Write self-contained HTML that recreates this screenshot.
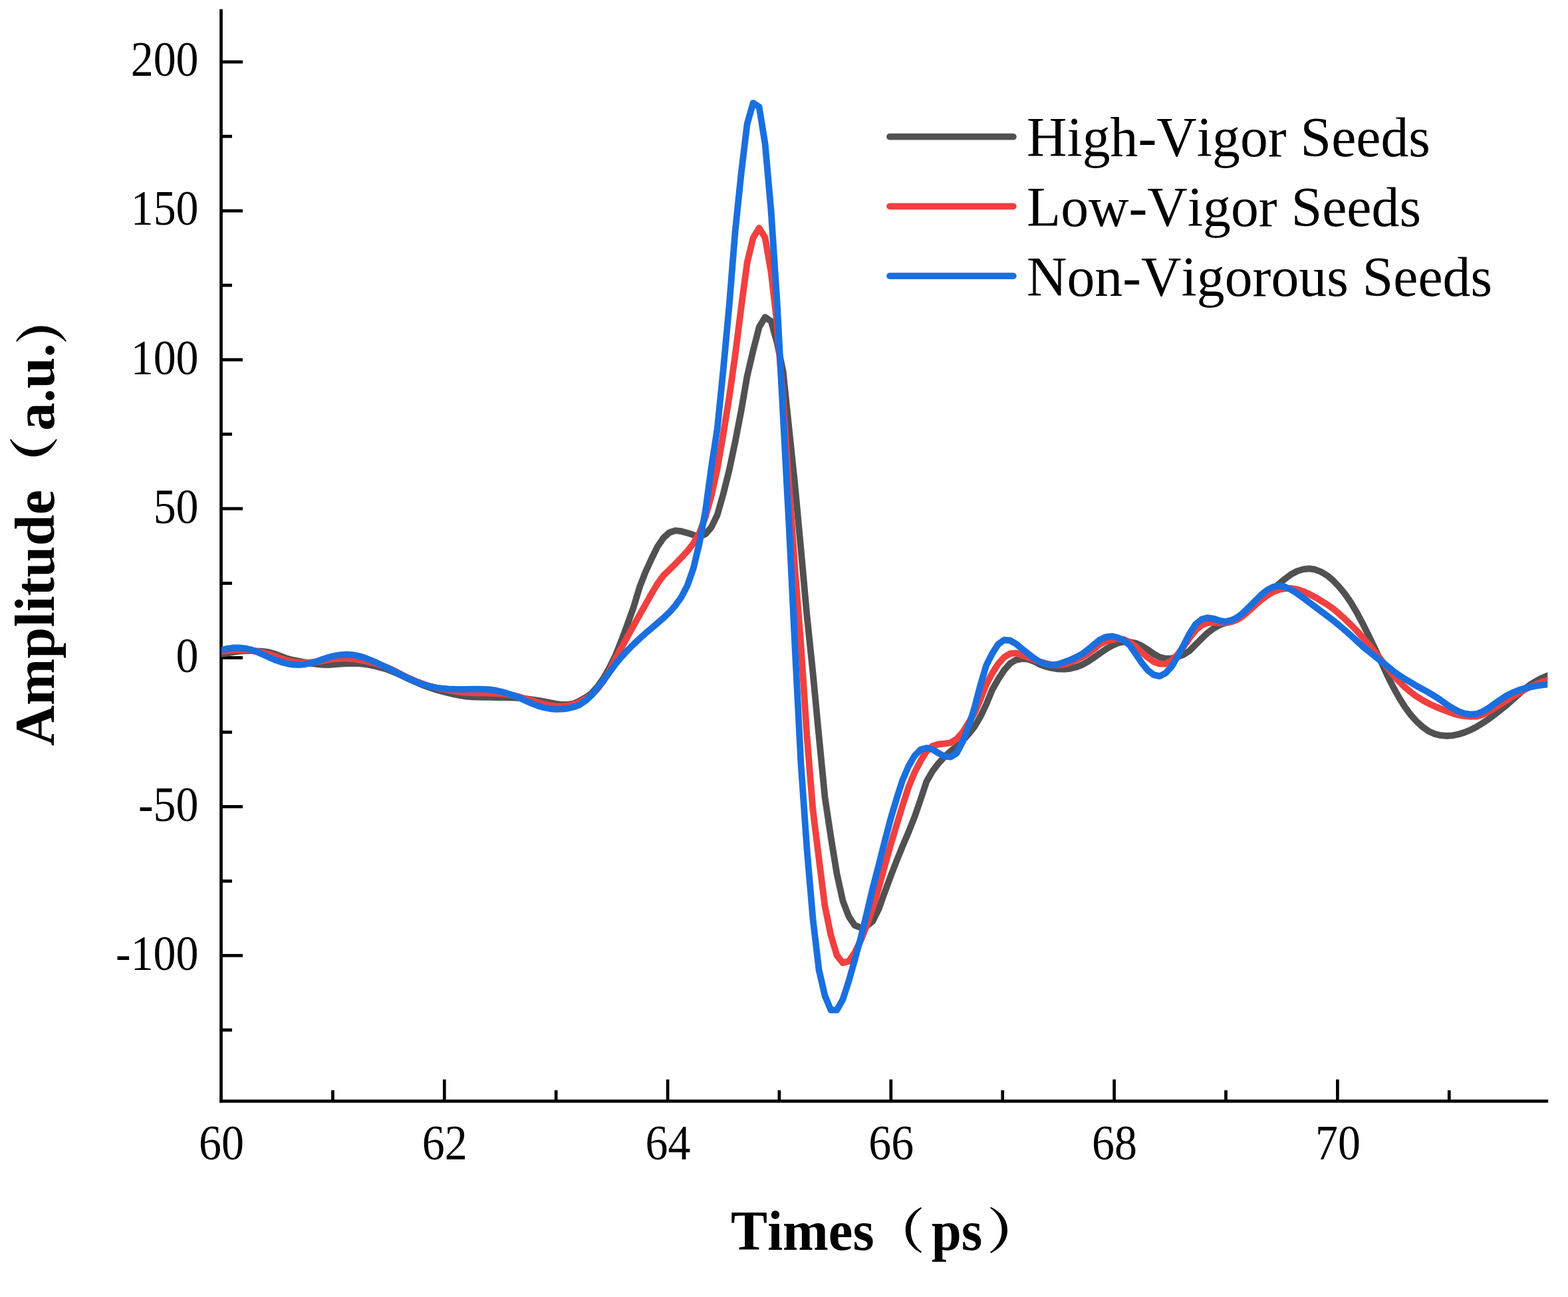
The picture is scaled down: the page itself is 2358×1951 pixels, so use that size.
<!DOCTYPE html>
<html lang="en"><head><meta charset="utf-8"><title>THz time-domain signals</title>
<style>html,body{margin:0;padding:0;background:#fff}svg{display:block}text{font-family:"Liberation Serif","Noto Serif CJK SC",serif;fill:#000}text{font-kerning:none}.tk{font-size:73.5px}.lg{font-size:84.5px}.ti{font-size:84px;font-weight:bold}.cj{font-family:"Noto Serif CJK SC","Liberation Serif",serif;font-weight:900}</style></head><body>
<svg width="2358" height="1951" viewBox="0 0 2358 1951" role="img" aria-label="Terahertz time-domain amplitude of high-vigor, low-vigor and non-vigorous seeds">
<rect width="2358" height="1951" fill="#fff"/>
<g stroke="#000" stroke-width="4.7" fill="none" stroke-linecap="butt">
<path d="M332.5 13.8V1658.8"/>
<path d="M330.1 1656.4H2328.2"/>
<path d="M332.5 93.1h32.5M332.5 317.1h32.5M332.5 541.2h32.5M332.5 765.2h32.5M332.5 989.3h32.5M332.5 1213.3h32.5M332.5 1437.4h32.5M332.5 205.1h16.5M332.5 429.2h16.5M332.5 653.2h16.5M332.5 877.3h16.5M332.5 1101.3h16.5M332.5 1325.4h16.5M332.5 1549.4h16.5M668.3 1656.4v-32.6M1004.1 1656.4v-32.6M1339.8 1656.4v-32.6M1675.6 1656.4v-32.6M2011.4 1656.4v-32.6M500.4 1656.4v-16.5M836.2 1656.4v-16.5M1171.9 1656.4v-16.5M1507.7 1656.4v-16.5M1843.5 1656.4v-16.5M2179.3 1656.4v-16.5"/>
</g>
<clipPath id="frame"><rect x="333.1" y="0" width="1994.2" height="1660"/></clipPath>
<g clip-path="url(#frame)" fill="none" stroke-width="9.8" stroke-linejoin="round" stroke-linecap="butt">
<path d="M332.5 984.0L341.5 982.7L350.5 980.9L359.5 979.6L368.5 979.0L377.4 978.9L386.4 979.3L395.4 979.9L404.4 981.2L413.4 983.8L422.4 987.2L431.4 990.5L440.4 992.9L449.4 994.5L458.4 996.2L467.4 997.8L476.3 999.0L485.3 999.8L494.3 1000.0L503.3 999.4L512.3 998.7L521.3 998.0L530.3 997.9L539.3 998.2L548.3 999.0L557.2 1000.5L566.2 1002.6L575.2 1004.9L584.2 1007.6L593.2 1011.2L602.2 1015.4L611.2 1019.7L620.2 1023.7L629.2 1027.7L638.2 1031.4L647.2 1034.7L656.1 1037.5L665.1 1040.0L674.1 1042.3L683.1 1044.4L692.1 1046.2L701.1 1047.6L710.1 1048.3L719.1 1048.6L728.1 1048.8L737.0 1048.9L746.0 1049.0L755.0 1049.1L764.0 1049.4L773.0 1049.7L782.0 1050.2L791.0 1051.1L800.0 1052.3L809.0 1053.6L818.0 1055.2L827.0 1057.1L835.9 1058.9L844.9 1059.9L853.9 1059.8L862.9 1058.2L871.9 1054.3L880.9 1049.1L889.9 1042.6L898.9 1032.5L907.9 1019.6L916.9 1003.7L925.8 985.3L934.8 962.9L943.8 938.5L952.8 913.4L961.8 883.3L970.8 860.3L979.8 840.5L988.8 822.2L997.8 809.0L1006.8 801.0L1015.7 798.1L1024.7 799.2L1033.7 801.7L1042.7 804.7L1051.7 807.2L1060.7 803.5L1069.7 793.2L1078.7 774.5L1087.7 743.0L1096.7 706.9L1105.6 664.5L1114.6 618.0L1123.6 565.8L1132.6 527.4L1141.6 492.3L1150.6 477.1L1159.6 483.2L1168.6 515.8L1177.6 558.8L1186.6 644.9L1195.5 730.0L1204.5 826.8L1213.5 926.2L1222.5 1012.6L1231.5 1107.1L1240.5 1199.1L1249.5 1259.3L1258.5 1314.4L1267.5 1355.2L1276.5 1378.7L1285.4 1391.9L1294.4 1395.5L1303.4 1392.8L1312.4 1385.7L1321.4 1367.5L1330.4 1342.3L1339.4 1318.0L1348.4 1294.8L1357.4 1272.6L1366.4 1251.5L1375.3 1229.0L1384.3 1203.0L1393.3 1175.8L1402.3 1160.1L1411.3 1148.3L1420.3 1138.5L1429.3 1130.4L1438.3 1123.2L1447.3 1114.7L1456.2 1104.6L1465.2 1093.4L1474.2 1078.3L1483.2 1059.5L1492.2 1037.5L1501.2 1021.7L1510.2 1008.0L1519.2 997.7L1528.2 992.6L1537.2 990.9L1546.2 991.7L1555.1 995.0L1564.1 999.6L1573.1 1002.8L1582.1 1005.0L1591.1 1006.3L1600.1 1006.7L1609.1 1005.8L1618.1 1003.6L1627.1 1000.1L1636.0 995.3L1645.0 989.1L1654.0 982.7L1663.0 976.5L1672.0 971.2L1681.0 967.2L1690.0 965.5L1699.0 965.7L1708.0 967.6L1717.0 971.6L1726.0 977.2L1734.9 983.6L1743.9 988.5L1752.9 990.7L1761.9 990.3L1770.9 988.2L1779.9 984.6L1788.9 978.8L1797.9 969.8L1806.9 960.6L1815.9 952.2L1824.8 945.4L1833.8 940.2L1842.8 937.2L1851.8 933.6L1860.8 928.9L1869.8 923.1L1878.8 916.4L1887.8 908.3L1896.8 900.2L1905.8 893.6L1914.7 886.6L1923.7 878.1L1932.7 870.6L1941.7 863.9L1950.7 859.1L1959.7 856.4L1968.7 855.3L1977.7 856.7L1986.7 860.3L1995.7 865.6L2004.6 873.0L2013.6 882.5L2022.6 893.5L2031.6 906.5L2040.6 921.8L2049.6 938.7L2058.6 956.9L2067.6 975.7L2076.6 994.6L2085.6 1014.3L2094.5 1032.4L2103.5 1048.6L2112.5 1063.1L2121.5 1075.3L2130.5 1085.4L2139.5 1093.5L2148.5 1099.9L2157.5 1103.9L2166.5 1106.2L2175.4 1107.0L2184.4 1106.4L2193.4 1104.5L2202.4 1101.8L2211.4 1098.0L2220.4 1093.3L2229.4 1087.9L2238.4 1081.8L2247.4 1075.0L2256.4 1068.0L2265.4 1060.8L2274.3 1052.9L2283.3 1044.8L2292.3 1036.9L2301.3 1030.0L2310.3 1024.3L2319.3 1019.7L2328.3 1016.0L2337.3 1013.0L2346.3 1010.1" stroke="#515151"/>
<path d="M332.5 980.5L341.5 979.0L350.5 978.1L359.5 977.8L368.5 978.0L377.4 978.8L386.4 980.0L395.4 981.7L404.4 984.0L413.4 987.0L422.4 990.5L431.4 993.5L440.4 995.5L449.4 996.4L458.4 996.7L467.4 996.4L476.3 995.5L485.3 994.1L494.3 992.5L503.3 991.2L512.3 990.6L521.3 990.5L530.3 991.2L539.3 992.5L548.3 994.2L557.2 996.2L566.2 998.6L575.2 1001.5L584.2 1004.9L593.2 1009.1L602.2 1013.8L611.2 1018.4L620.2 1022.5L629.2 1026.2L638.2 1029.6L647.2 1032.5L656.1 1034.6L665.1 1036.4L674.1 1038.2L683.1 1039.7L692.1 1041.0L701.1 1041.9L710.1 1042.3L719.1 1042.5L728.1 1042.6L737.0 1042.9L746.0 1043.2L755.0 1043.7L764.0 1044.6L773.0 1046.3L782.0 1048.6L791.0 1051.2L800.0 1053.8L809.0 1056.6L818.0 1059.0L827.0 1061.0L835.9 1062.1L844.9 1062.5L853.9 1061.6L862.9 1059.3L871.9 1055.8L880.9 1051.2L889.9 1045.0L898.9 1035.8L907.9 1023.9L916.9 1008.2L925.8 990.4L934.8 973.8L943.8 957.5L952.8 941.1L961.8 925.2L970.8 909.1L979.8 893.1L988.8 877.9L997.8 865.6L1006.8 857.0L1015.7 848.1L1024.7 838.9L1033.7 829.0L1042.7 817.4L1051.7 802.0L1060.7 778.0L1069.7 746.0L1078.7 705.3L1087.7 653.1L1096.7 597.2L1105.6 534.2L1114.6 462.6L1123.6 395.0L1132.6 357.8L1141.6 343.0L1150.6 357.5L1159.6 410.0L1168.6 488.0L1177.6 601.8L1186.6 730.5L1195.5 855.9L1204.5 970.5L1213.5 1107.4L1222.5 1218.7L1231.5 1291.6L1240.5 1363.1L1249.5 1406.9L1258.5 1437.2L1267.5 1448.3L1276.5 1446.0L1285.4 1433.0L1294.4 1414.5L1303.4 1392.1L1312.4 1365.8L1321.4 1335.6L1330.4 1303.0L1339.4 1270.8L1348.4 1240.8L1357.4 1211.4L1366.4 1183.8L1375.3 1162.2L1384.3 1144.7L1393.3 1130.2L1402.3 1122.1L1411.3 1119.5L1420.3 1118.6L1429.3 1117.3L1438.3 1112.1L1447.3 1102.1L1456.2 1087.9L1465.2 1073.3L1474.2 1052.4L1483.2 1029.5L1492.2 1012.5L1501.2 998.5L1510.2 988.5L1519.2 983.2L1528.2 982.4L1537.2 985.5L1546.2 988.8L1555.1 992.3L1564.1 995.6L1573.1 998.0L1582.1 1000.0L1591.1 1000.5L1600.1 999.5L1609.1 996.5L1618.1 992.8L1627.1 988.6L1636.0 983.2L1645.0 976.4L1654.0 969.0L1663.0 964.8L1672.0 962.3L1681.0 961.0L1690.0 961.9L1699.0 965.9L1708.0 972.8L1717.0 981.0L1726.0 989.1L1734.9 995.3L1743.9 998.7L1752.9 998.5L1761.9 993.6L1770.9 984.7L1779.9 972.4L1788.9 959.6L1797.9 947.9L1806.9 940.4L1815.9 936.9L1824.8 936.2L1833.8 937.1L1842.8 937.1L1851.8 935.4L1860.8 932.2L1869.8 926.1L1878.8 918.4L1887.8 910.1L1896.8 902.4L1905.8 895.5L1914.7 890.3L1923.7 887.0L1932.7 885.3L1941.7 885.0L1950.7 886.5L1959.7 889.6L1968.7 893.6L1977.7 898.3L1986.7 903.7L1995.7 909.3L2004.6 915.6L2013.6 923.1L2022.6 931.2L2031.6 939.9L2040.6 949.1L2049.6 959.1L2058.6 969.6L2067.6 980.6L2076.6 992.1L2085.6 1003.7L2094.5 1014.6L2103.5 1024.6L2112.5 1033.5L2121.5 1041.1L2130.5 1047.7L2139.5 1053.4L2148.5 1058.3L2157.5 1062.4L2166.5 1066.1L2175.4 1069.6L2184.4 1073.0L2193.4 1075.7L2202.4 1077.1L2211.4 1077.9L2220.4 1077.7L2229.4 1075.0L2238.4 1070.6L2247.4 1065.2L2256.4 1059.5L2265.4 1053.6L2274.3 1048.1L2283.3 1042.8L2292.3 1037.7L2301.3 1033.2L2310.3 1029.2L2319.3 1025.8L2328.3 1023.0L2337.3 1020.7L2346.3 1018.5" stroke="#F14040"/>
<path d="M332.5 978.3L341.5 975.8L350.5 974.5L359.5 974.4L368.5 975.4L377.4 977.2L386.4 980.6L395.4 984.5L404.4 988.6L413.4 992.6L422.4 995.7L431.4 998.1L440.4 999.6L449.4 1000.1L458.4 999.3L467.4 997.5L476.3 995.0L485.3 991.6L494.3 988.7L503.3 986.6L512.3 985.1L521.3 984.5L530.3 985.1L539.3 986.8L548.3 989.5L557.2 993.0L566.2 996.8L575.2 1001.1L584.2 1005.5L593.2 1010.0L602.2 1014.7L611.2 1019.2L620.2 1023.2L629.2 1027.0L638.2 1030.3L647.2 1032.8L656.1 1034.5L665.1 1035.5L674.1 1036.3L683.1 1036.7L692.1 1036.8L701.1 1036.8L710.1 1036.7L719.1 1036.6L728.1 1036.8L737.0 1037.4L746.0 1038.7L755.0 1040.8L764.0 1043.4L773.0 1046.4L782.0 1050.0L791.0 1054.3L800.0 1058.2L809.0 1061.7L818.0 1064.3L827.0 1066.0L835.9 1066.8L844.9 1066.7L853.9 1065.6L862.9 1063.5L871.9 1060.1L880.9 1053.8L889.9 1045.4L898.9 1034.4L907.9 1023.1L916.9 1010.9L925.8 998.7L934.8 987.9L943.8 978.2L952.8 969.1L961.8 960.6L970.8 952.6L979.8 945.0L988.8 937.3L997.8 929.5L1006.8 920.9L1015.7 910.7L1024.7 898.1L1033.7 880.7L1042.7 855.2L1051.7 817.5L1060.7 769.5L1069.7 703.5L1078.7 645.0L1087.7 555.8L1096.7 458.8L1105.6 348.0L1114.6 261.2L1123.6 186.4L1132.6 154.9L1141.6 160.8L1150.6 216.6L1159.6 317.6L1168.6 454.8L1177.6 625.1L1186.6 792.0L1195.5 974.5L1204.5 1149.4L1213.5 1277.7L1222.5 1382.5L1231.5 1458.7L1240.5 1497.8L1249.5 1519.3L1258.5 1519.3L1267.5 1503.3L1276.5 1475.5L1285.4 1444.0L1294.4 1411.0L1303.4 1374.2L1312.4 1336.0L1321.4 1301.4L1330.4 1265.8L1339.4 1231.5L1348.4 1201.2L1357.4 1173.1L1366.4 1152.4L1375.3 1136.9L1384.3 1127.8L1393.3 1125.1L1402.3 1127.3L1411.3 1132.8L1420.3 1137.7L1429.3 1138.7L1438.3 1133.3L1447.3 1116.7L1456.2 1093.9L1465.2 1065.4L1474.2 1031.2L1483.2 1000.7L1492.2 983.0L1501.2 969.0L1510.2 962.6L1519.2 963.5L1528.2 968.7L1537.2 976.2L1546.2 983.4L1555.1 990.2L1564.1 996.0L1573.1 999.2L1582.1 1000.3L1591.1 999.1L1600.1 996.2L1609.1 992.8L1618.1 988.7L1627.1 983.9L1636.0 977.3L1645.0 969.7L1654.0 962.4L1663.0 958.1L1672.0 957.1L1681.0 959.3L1690.0 963.1L1699.0 970.7L1708.0 983.8L1717.0 997.1L1726.0 1008.1L1734.9 1015.1L1743.9 1017.1L1752.9 1012.5L1761.9 1002.6L1770.9 987.8L1779.9 970.5L1788.9 953.2L1797.9 939.1L1806.9 931.8L1815.9 929.3L1824.8 930.5L1833.8 933.6L1842.8 935.1L1851.8 933.1L1860.8 928.9L1869.8 921.6L1878.8 912.7L1887.8 903.6L1896.8 894.6L1905.8 887.5L1914.7 882.8L1923.7 881.1L1932.7 882.9L1941.7 887.1L1950.7 892.7L1959.7 899.2L1968.7 906.1L1977.7 912.8L1986.7 919.5L1995.7 926.2L2004.6 933.1L2013.6 940.4L2022.6 948.1L2031.6 956.0L2040.6 964.4L2049.6 972.6L2058.6 980.0L2067.6 987.2L2076.6 994.4L2085.6 1001.6L2094.5 1008.9L2103.5 1015.5L2112.5 1021.1L2121.5 1026.5L2130.5 1031.9L2139.5 1036.8L2148.5 1041.8L2157.5 1047.2L2166.5 1053.2L2175.4 1059.5L2184.4 1065.4L2193.4 1070.1L2202.4 1073.3L2211.4 1074.6L2220.4 1074.0L2229.4 1070.5L2238.4 1065.2L2247.4 1058.8L2256.4 1052.5L2265.4 1046.7L2274.3 1042.1L2283.3 1038.5L2292.3 1035.6L2301.3 1033.4L2310.3 1031.7L2319.3 1030.3L2328.3 1029.2L2337.3 1028.3L2346.3 1027.5" stroke="#1A6FDF"/>
</g>
<g class="tk" text-anchor="end">
<text transform="translate(298.6 114.4) scale(0.925 1)">200</text>
<text transform="translate(298.6 338.4) scale(0.925 1)">150</text>
<text transform="translate(298.6 562.5) scale(0.925 1)">100</text>
<text transform="translate(298.6 786.5) scale(0.925 1)">50</text>
<text transform="translate(298.6 1010.6) scale(0.925 1)">0</text>
<text transform="translate(298.6 1234.6) scale(0.925 1)">-50</text>
<text transform="translate(298.6 1458.7) scale(0.925 1)">-100</text>
</g>
<g class="tk" text-anchor="middle">
<text transform="translate(333.0 1744.3) scale(0.925 1)">60</text>
<text transform="translate(668.8 1744.3) scale(0.925 1)">62</text>
<text transform="translate(1004.6 1744.3) scale(0.925 1)">64</text>
<text transform="translate(1340.3 1744.3) scale(0.925 1)">66</text>
<text transform="translate(1676.1 1744.3) scale(0.925 1)">68</text>
<text transform="translate(2011.9 1744.3) scale(0.925 1)">70</text>
</g>
<path d="M1338 205.7H1523.8" stroke="#515151" stroke-width="9.8" stroke-linecap="round" fill="none"/>
<text class="lg" transform="translate(1544 234.7) scale(0.991 1)">High-Vigor Seeds</text>
<path d="M1338 310.4H1523.8" stroke="#F14040" stroke-width="9.8" stroke-linecap="round" fill="none"/>
<text class="lg" transform="translate(1544 339.7) scale(0.991 1)">Low-Vigor Seeds</text>
<path d="M1338 415.1H1523.8" stroke="#1A6FDF" stroke-width="9.8" stroke-linecap="round" fill="none"/>
<text class="lg" transform="translate(1544 444.7) scale(0.991 1)">Non-Vigorous Seeds</text>
<g class="ti"><text transform="translate(1099.1 1879.7) scale(0.9824 1)">Times</text><text transform="translate(1309.4 1877.8) scale(0.969 0.861)" class="cj" style="font-weight:700">（</text><text transform="translate(1400.8 1879.7) scale(0.963 1)">ps</text><text transform="translate(1483.8 1877.9) scale(1.04 0.873)" class="cj" style="font-weight:700">）</text></g>
<g class="ti"><text transform="translate(81 1122) rotate(-90) scale(1.0066 1.015)">Amplitude</text><text transform="translate(77.8 741) rotate(-90) scale(1.019 0.886)" class="cj" style="font-weight:900">（</text><text transform="translate(81 648) rotate(-90) scale(1.008 1.015)">a.u.</text><text transform="translate(92.3 518.6) rotate(-90) scale(0.92 0.952)" class="cj" style="font-weight:900">）</text></g>

</svg></body></html>
